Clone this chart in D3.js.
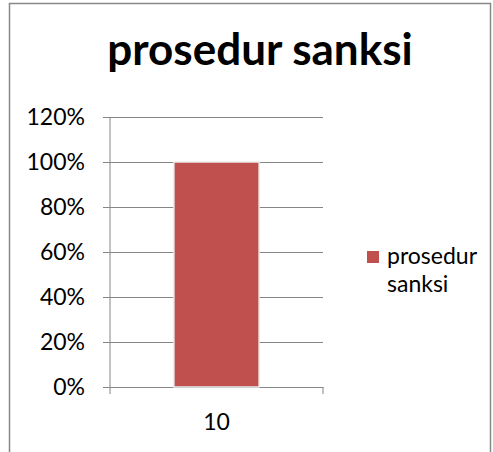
<!DOCTYPE html>
<html lang="en">
<head>
<meta charset="UTF-8" />
<title>prosedur sanksi</title>
<script src="https://d3js.org/d3.v7.min.js"></script>
<style>
  body { margin: 0; background: #fff; }
  text { font-family: Lato, "Open Sans", sans-serif; fill: #000; }
</style>
</head>
<body>
<div id="chart"></div>
<script>
// data
var categories = ["10"];
var seriesName = "prosedur sanksi";
var values = [1.0];
var yTicks = [0, 0.2, 0.4, 0.6, 0.8, 1.0, 1.2];

var W = 493, H = 452;
var plot = {left: 110, right: 323, top: 117, bottom: 387};

var svg = d3.select("#chart").append("svg")
  .attr("width", W).attr("height", H);

// outer frame
svg.append("rect")
  .attr("x", 9.5).attr("y", 3.5)
  .attr("width", 481).attr("height", 460)
  .attr("fill", "#fff").attr("stroke", "#888").attr("stroke-width", 1.5);

// title
svg.append("text")
  .attr("x", 260).attr("y", 65)
  .attr("text-anchor", "middle")
  .style("font-size", "44px").style("font-weight", "bold")
  .text("prosedur sanksi");

var x = d3.scaleBand()
  .domain(categories)
  .range([plot.left, plot.right])
  .padding(0);

var y = d3.scaleLinear()
  .domain([0, 1.2])
  .range([plot.bottom, plot.top]);

// gridlines + y labels
var yAxis = svg.append("g")
  .attr("transform", "translate(" + plot.left + ",0)")
  .call(d3.axisLeft(y).tickValues(yTicks)
    .tickSizeInner(-(plot.right - plot.left)).tickSizeOuter(0)
    .tickFormat(d3.format(".0%")));
yAxis.select(".domain").remove();
yAxis.selectAll(".tick line")
  .attr("x1", -7)
  .attr("stroke", "#868686");
yAxis.selectAll(".tick text")
  .attr("x", -25)
  .style("font-size", "23px");

// y axis line
svg.append("line")
  .attr("x1", plot.left).attr("x2", plot.left)
  .attr("y1", plot.top).attr("y2", plot.bottom)
  .attr("stroke", "#868686");

// x axis
var xAxis = svg.append("g")
  .attr("transform", "translate(0," + plot.bottom + ")")
  .call(d3.axisBottom(x).tickSize(0).tickSizeOuter(0));
xAxis.select(".domain").attr("stroke", "#868686");
xAxis.selectAll(".tick text")
  .attr("dy", 0).attr("y", 43)
  .style("font-size", "23px");
xAxis.selectAll(".edge")
  .data([plot.left, plot.right])
  .enter().append("line")
  .attr("x1", function(d) { return d; })
  .attr("x2", function(d) { return d; })
  .attr("y1", 0).attr("y2", 7)
  .attr("stroke", "#868686");

// bars
var barW = x.bandwidth() / 2.5;
svg.selectAll(".bar")
  .data(values)
  .enter().append("rect")
  .attr("class", "bar")
  .attr("x", function(d, i) { return x(categories[i]) + (x.bandwidth() - barW) / 2; })
  .attr("y", function(d) { return y(d); })
  .attr("width", barW)
  .attr("height", function(d) { return y(0) - y(d); })
  .attr("fill", "#C0504D")
  .attr("stroke", "#ececec")
  .attr("stroke-width", 1.5);

// legend
var legend = svg.append("g").attr("transform", "translate(367,251)");
legend.append("rect")
  .attr("width", 12).attr("height", 12)
  .attr("fill", "#C0504D");
legend.append("text")
  .attr("x", 20).attr("y", 13)
  .style("font-size", "23px")
  .text(seriesName.split(" ")[0]);
legend.append("text")
  .attr("x", 20).attr("y", 41)
  .style("font-size", "23px")
  .text(seriesName.split(" ")[1]);
</script>
</body>
</html>
